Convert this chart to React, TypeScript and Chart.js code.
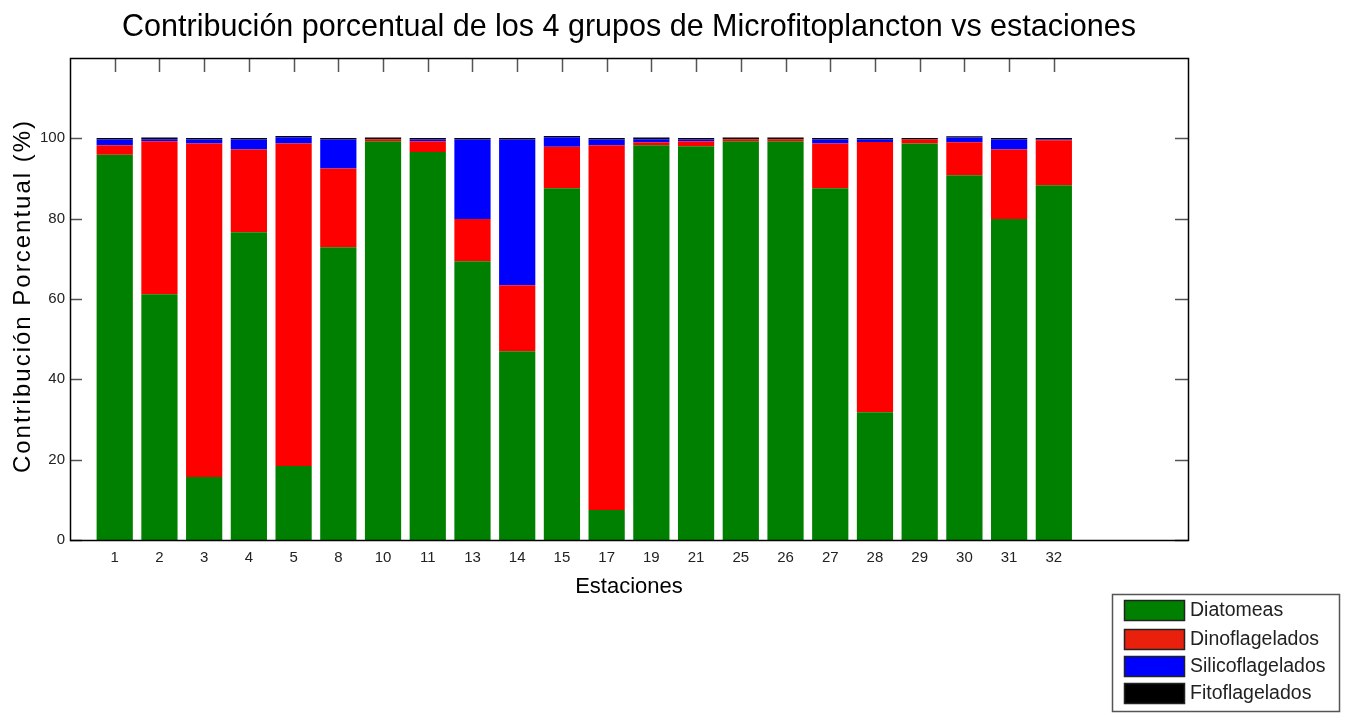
import React, { useEffect, useRef } from 'react';
import { Chart, registerables } from 'chart.js';

Chart.register(...registerables);

// ---- Data ----
const stations = ['1', '2', '3', '4', '5', '8', '10', '11', '13', '14', '15', '17', '19', '21', '25', '26', '27', '28', '29', '30', '31', '32'];
const diatomeas = [95.9, 61.2, 15.7, 76.6, 18.4, 72.9, 99.3, 96.6, 69.4, 47.0, 87.6, 7.5, 98.3, 98.0, 99.3, 99.3, 87.6, 31.8, 98.7, 90.8, 79.9, 88.3];
const dinoflagelados = [2.4, 38.1, 83.0, 20.6, 80.3, 19.6, 0.5, 2.7, 10.5, 16.4, 10.3, 90.8, 0.7, 1.3, 0.5, 0.5, 11.1, 67.3, 1.0, 8.2, 17.3, 11.2];
const silicoflagelados = [1.4, 0.5, 1.0, 2.5, 1.6, 7.2, 0.0, 0.4, 19.8, 36.3, 2.4, 1.4, 0.8, 0.4, 0.0, 0.0, 1.0, 0.6, 0.0, 1.2, 2.5, 0.2];
const fitoflagelados = [0.4, 0.4, 0.4, 0.4, 0.3, 0.4, 0.4, 0.4, 0.4, 0.4, 0.3, 0.4, 0.4, 0.4, 0.4, 0.4, 0.4, 0.4, 0.4, 0.3, 0.4, 0.4];
const yTickValues = [0, 20, 40, 60, 80, 100];
const seriesNames = ['Diatomeas', 'Dinoflagelados', 'Silicoflagelados', 'Fitoflagelados'];
const seriesColors = ['#008000', '#ff0000', '#0000ff', '#000000'];
const legendSwatchColors = ['#008000', '#e8200c', '#0000ff', '#000000'];
const titleText = 'Contribución porcentual de los 4 grupos de Microfitoplancton vs estaciones';
const xTitleText = 'Estaciones';
const yTitleText = 'Contribución Porcentual (%)';

// Empty category slots before and after the stations (axis runs 0..25)
const LEAD = 1;
const TRAIL = 3;
function pad<T>(arr: T[]): (T | null)[] {
  return [...Array(LEAD).fill(null), ...arr, ...Array(TRAIL).fill(null)];
}
const labels = pad(stations).map((v) => (v === null ? '' : v));

const SANS = "'Liberation Sans', Arial, sans-serif";

const matlabAxes = {
  id: 'matlabAxes',
  beforeDatasetsDraw(chart: any) {
    const { ctx, chartArea, scales } = chart;
    const { left, right, top, bottom } = chartArea;
    ctx.save();
    ctx.strokeStyle = '#555';
    ctx.lineWidth = 1.5;
    ctx.beginPath();
    stations.forEach((_, i) => {
      const x = Math.round(scales.x.getPixelForValue(i + LEAD)) + 0.5;
      ctx.moveTo(x, top);
      ctx.lineTo(x, top + 14);
      ctx.moveTo(x, bottom);
      ctx.lineTo(x, bottom - 14);
    });
    yTickValues.forEach((v) => {
      const y = Math.round(scales.y.getPixelForValue(v)) + 0.5;
      ctx.moveTo(left, y);
      ctx.lineTo(left + 12, y);
      ctx.moveTo(right, y);
      ctx.lineTo(right - 13, y);
    });
    ctx.stroke();
    ctx.restore();
  },
  afterDatasetsDraw(chart: any) {
    const { ctx, chartArea } = chart;
    const { left, right, top, bottom } = chartArea;
    ctx.save();
    ctx.strokeStyle = '#000';
    ctx.lineWidth = 1.5;
    ctx.strokeRect(Math.round(left) + 0.5, Math.round(top) + 0.5, Math.round(right - left), Math.round(bottom - top));
    ctx.restore();
  },
  afterDraw(chart: any) {
    const { ctx, chartArea } = chart;
    // y axis title with letter spacing
    ctx.save();
    ctx.translate(23, (chartArea.top + chartArea.bottom) / 2 - 3);
    ctx.rotate(-Math.PI / 2);
    ctx.font = `24px ${SANS}`;
    try { (ctx as any).letterSpacing = '2px'; } catch (e) { /* ignore */ }
    ctx.fillStyle = '#000';
    ctx.textAlign = 'center';
    ctx.textBaseline = 'middle';
    ctx.fillText(yTitleText, 0, 0);
    ctx.restore();

    // legend box
    ctx.save();
    const bx = 1112, by = 594, bw = 227, bh = 117;
    ctx.fillStyle = '#fff';
    ctx.fillRect(bx, by, bw, bh);
    ctx.strokeStyle = '#555';
    ctx.lineWidth = 1.5;
    ctx.strokeRect(bx + 0.5, by + 0.5, bw, bh);
    const rowY = [600, 629, 656, 683];
    chart.data.datasets.forEach((ds: any, i: number) => {
      const y = rowY[i];
      ctx.fillStyle = legendSwatchColors[i];
      ctx.fillRect(1124, y, 61, 20);
      ctx.strokeStyle = '#222';
      ctx.lineWidth = 1.5;
      ctx.strokeRect(1124.5, y + 0.5, 60, 20);
      ctx.fillStyle = '#222';
      ctx.font = `19.5px ${SANS}`;
      ctx.textAlign = 'left';
      ctx.textBaseline = 'middle';
      ctx.fillText(ds.label, 1190, y + 11);
    });
    ctx.restore();
  },
};

export default function App() {
  const canvasRef = useRef<HTMLCanvasElement | null>(null);

  useEffect(() => {
    if (!canvasRef.current) return;
    const datasetsSrc = [diatomeas, dinoflagelados, silicoflagelados, fitoflagelados];
    const chart = new Chart(canvasRef.current, {
      type: 'bar',
      data: {
        labels,
        datasets: datasetsSrc.map((arr, i) => ({
          label: seriesNames[i],
          data: pad(arr),
          backgroundColor: seriesColors[i],
          borderWidth: 0,
          barPercentage: 0.81,
          categoryPercentage: 1,
          stack: 'all',
        })),
      },
      options: {
        animation: false,
        responsive: false,
        maintainAspectRatio: false,
        layout: { padding: { left: 0, right: 157, top: 0, bottom: 113 } },
        plugins: {
          legend: { display: false },
          tooltip: { enabled: false },
          title: {
            display: true,
            text: titleText,
            fullSize: false,
            color: '#000',
            font: { family: SANS, size: 30.5, weight: 'normal' },
            padding: { top: 9.2, bottom: 12.2 },
          },
        },
        scales: {
          x: {
            type: 'category',
            offset: false,
            stacked: true,
            grid: { display: false, drawTicks: false },
            border: { display: false },
            ticks: {
              autoSkip: false,
              maxRotation: 0,
              minRotation: 0,
              padding: 9,
              color: '#222',
              font: { family: SANS, size: 15 },
            },
            title: {
              display: true,
              text: xTitleText,
              color: '#000',
              font: { family: SANS, size: 22 },
              padding: 0,
            },
            afterFit: (s: any) => { s.height = 60; },
          },
          y: {
            type: 'linear',
            min: 0,
            max: 120,
            stacked: true,
            grid: { display: false, drawTicks: false },
            border: { display: false },
            ticks: {
              stepSize: 20,
              padding: 5,
              color: '#222',
              font: { family: SANS, size: 15 },
              callback: (v: any) => (yTickValues.includes(Number(v)) ? String(v) : ''),
            },
            afterFit: (s: any) => { s.width = 70; },
          },
        },
      },
      plugins: [matlabAxes],
    });
    return () => chart.destroy();
  }, []);

  return (
    <div style={{ position: 'absolute', left: 0, top: 0, width: 1345, height: 713, background: '#fff' }}>
      <canvas ref={canvasRef} width={1345} height={713} style={{ display: 'block' }} />
    </div>
  );
}
